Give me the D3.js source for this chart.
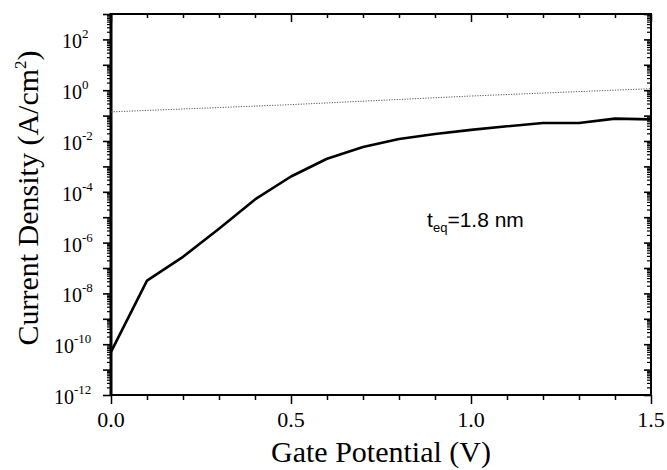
<!DOCTYPE html>
<html>
<head>
<meta charset="utf-8">
<script src="https://cdn.jsdelivr.net/npm/d3@7/dist/d3.min.js"></script>
<style>
  html, body { margin: 0; padding: 0; background: #fff; }
  svg { display: block; }
</style>
</head>
<body>
<svg id="chart" width="667" height="470"></svg>
<script>
// Gate potential (V) sampled every 0.1 V
const gateVoltage = [0.0, 0.1, 0.2, 0.3, 0.4, 0.5, 0.6, 0.7, 0.8, 0.9, 1.0, 1.1, 1.2, 1.3, 1.4, 1.5];
// Tunnelling current density (A/cm^2), t_eq = 1.8 nm
const currentDensity = [5.0e-11, 3.2e-8, 2.75e-7, 3.5e-6, 5.0e-5, 4.0e-4, 2.0e-3, 5.8e-3,
                        1.2e-2, 1.9e-2, 2.75e-2, 3.8e-2, 5.1e-2, 5.1e-2, 7.6e-2, 7.1e-2];
// Reference (dotted) curve
const refVoltage = [0.0, 0.5, 1.0, 1.5];
const refDensity = [0.14, 0.27, 0.59, 1.15];

const xTickValues = [0, 0.1, 0.2, 0.3, 0.4, 0.5, 0.6, 0.7, 0.8, 0.9, 1.0, 1.1, 1.2, 1.3, 1.4, 1.5];
const xTickLabels = ["0.0", "0.5", "1.0", "1.5"];
const yLabelExponents = [2, 0, -2, -4, -6, -8, -10, -12];
const decadeExponents = d3.range(-12, 4);
const annotation = { base: "t", sub: "eq", rest: "=1.8 nm" };

(function draw() {
  const svg = d3.select("#chart");
  const pl = 111, pr = 651, pt = 14, pb = 395;
  const serif = "'Liberation Serif', 'Times New Roman', serif";
  const sans = "'Liberation Sans', Arial, sans-serif";

  const x = d3.scaleLinear().domain([0, 1.5]).range([pl, pr]);
  const y = d3.scaleLog().domain([1e-12, 1e3]).range([pb, pt]);

  // tick positions on the log axis
  const majorY = decadeExponents.map(e => Math.pow(10, e));
  const minorY = [];
  decadeExponents.slice(0, -1).forEach(e => {
    for (let k = 2; k <= 9; k++) minorY.push(k * Math.pow(10, e));
  });

  function styleAxis(g, w) {
    g.select(".domain").remove();
    g.selectAll(".tick line").attr("stroke", "#000").attr("stroke-width", w);
    g.selectAll(".tick text").remove();
  }

  const isMajorX = v => Math.abs(v * 2 - Math.round(v * 2)) < 1e-6;

  // bottom axis: outward ticks
  svg.append("g").attr("transform", `translate(0,${pb})`)
    .call(d3.axisBottom(x).tickValues(xTickValues.filter(isMajorX)).tickSize(9).tickFormat(""))
    .call(g => styleAxis(g, 1.5));
  svg.append("g").attr("transform", `translate(0,${pb})`)
    .call(d3.axisBottom(x).tickValues(xTickValues.filter(v => !isMajorX(v))).tickSize(5).tickFormat(""))
    .call(g => styleAxis(g, 1.5));
  // top axis: inward ticks
  svg.append("g").attr("transform", `translate(0,${pt})`)
    .call(d3.axisBottom(x).tickValues(xTickValues.filter(isMajorX)).tickSize(8).tickFormat(""))
    .call(g => styleAxis(g, 1.5));
  svg.append("g").attr("transform", `translate(0,${pt})`)
    .call(d3.axisBottom(x).tickValues(xTickValues.filter(v => !isMajorX(v))).tickSize(4).tickFormat(""))
    .call(g => styleAxis(g, 1.5));

  // left axis: outward ticks
  svg.append("g").attr("transform", `translate(${pl},0)`)
    .call(d3.axisLeft(y).tickValues(majorY).tickSize(8).tickFormat(""))
    .call(g => styleAxis(g, 1.6));
  svg.append("g").attr("transform", `translate(${pl},0)`)
    .call(d3.axisLeft(y).tickValues(minorY).tickSize(4).tickFormat(""))
    .call(g => styleAxis(g, 1.2));
  // right axis: inward ticks
  svg.append("g").attr("transform", `translate(${pr},0)`)
    .call(d3.axisLeft(y).tickValues(majorY).tickSize(7).tickFormat(""))
    .call(g => styleAxis(g, 1.6));
  svg.append("g").attr("transform", `translate(${pr},0)`)
    .call(d3.axisLeft(y).tickValues(minorY).tickSize(4).tickFormat(""))
    .call(g => styleAxis(g, 1.2));

  // frame
  svg.append("line").attr("x1", pl).attr("x2", pr).attr("y1", pb).attr("y2", pb)
    .attr("stroke", "#000").attr("stroke-width", 2);
  svg.append("line").attr("x1", pl).attr("x2", pr).attr("y1", pt).attr("y2", pt)
    .attr("stroke", "#000").attr("stroke-width", 2);
  svg.append("line").attr("x1", pl).attr("x2", pl).attr("y1", pt - 1).attr("y2", pb + 1)
    .attr("stroke", "#000").attr("stroke-width", 3);
  svg.append("line").attr("x1", pr).attr("x2", pr).attr("y1", pt - 1).attr("y2", pb + 1)
    .attr("stroke", "#000").attr("stroke-width", 2);

  // x tick labels
  svg.append("g").selectAll("text").data(xTickLabels).join("text")
    .attr("x", d => x(+d)).attr("y", pb + 32)
    .attr("text-anchor", "middle")
    .attr("font-family", serif).attr("font-size", 22)
    .text(d => d);

  // y tick labels (powers of ten)
  const yLab = svg.append("g").selectAll("text").data(yLabelExponents).join("text")
    .attr("x", d => (String(Math.abs(d)).length > 1 ? 54 : 62))
    .attr("y", d => y(Math.pow(10, d)) + 9)
    .attr("font-family", serif).attr("font-size", 20);
  yLab.append("tspan").text("10");
  yLab.append("tspan").attr("dy", -10).attr("font-size", 13).text(d => (d < 0 ? "-" : "") + Math.abs(d));

  // dotted reference curve
  const refLine = d3.line().x((d, i) => x(refVoltage[i])).y(d => y(d));
  svg.append("path").datum(refDensity)
    .attr("d", refLine)
    .attr("fill", "none").attr("stroke", "#555").attr("stroke-width", 1)
    .attr("stroke-dasharray", "1.2,1.4");

  // solid current-density curve
  const curve = d3.line().x((d, i) => x(gateVoltage[i])).y(d => y(d));
  svg.append("path").datum(currentDensity)
    .attr("d", curve)
    .attr("fill", "none").attr("stroke", "#000").attr("stroke-width", 2.6)
    .attr("stroke-linejoin", "round");

  // annotation
  const ann = svg.append("text")
    .attr("x", x(0.878)).attr("y", y(Math.pow(10, -5.39)))
    .attr("font-family", sans).attr("font-size", 21);
  ann.append("tspan").text(annotation.base);
  ann.append("tspan").attr("font-size", 13).attr("dy", 5).text(annotation.sub);
  ann.append("tspan").attr("dy", -5).text(annotation.rest);

  // axis titles
  svg.append("text")
    .attr("x", (pl + pr) / 2).attr("y", 462)
    .attr("text-anchor", "middle")
    .attr("font-family", serif).attr("font-size", 30)
    .text("Gate Potential (V)");

  const yt = svg.append("text")
    .attr("transform", "translate(38,198) rotate(-90)")
    .attr("text-anchor", "middle")
    .attr("font-family", serif).attr("font-size", 30);
  yt.append("tspan").text("Current Density (A/cm");
  yt.append("tspan").attr("dy", -12).attr("font-size", 17).text("2");
  yt.append("tspan").attr("dy", 12).text(")");
})();
</script>
</body>
</html>
